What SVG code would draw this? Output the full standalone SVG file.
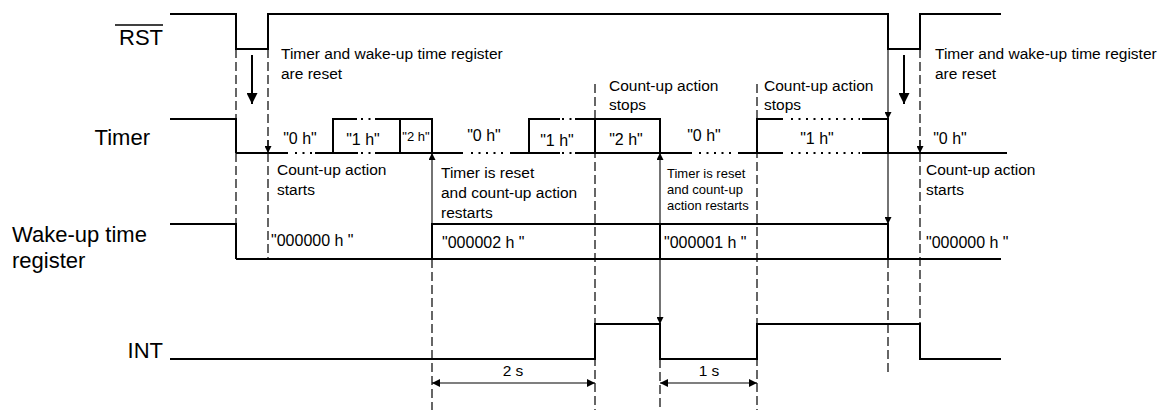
<svg xmlns="http://www.w3.org/2000/svg" width="1169" height="410" viewBox="0 0 1169 410">
<style>
.sig{fill:none;stroke:#000;stroke-width:2;stroke-linejoin:miter;stroke-linecap:butt}
.dot{fill:none;stroke:#000;stroke-width:2;stroke-dasharray:2 5.5}
.dash{fill:none;stroke:#000;stroke-width:1.2;stroke-dasharray:9 4}
.thin{fill:none;stroke:#000;stroke-width:1.1}
.bold{fill:none;stroke:#000;stroke-width:2}
text{font-family:"Liberation Sans",Arial,sans-serif;fill:#000}
.lbl{font-size:22px}
.note{font-size:15.5px}
.sm{font-size:13px}
.val{font-size:16px;text-anchor:middle}
.reg{font-size:16px}
</style>
<defs>
<marker id="ah" viewBox="0 0 10 10" refX="10" refY="5" markerWidth="9" markerHeight="7" markerUnits="userSpaceOnUse" orient="auto"><path d="M0,0 L10,5 L0,10 z" fill="#000"/></marker>
<marker id="ahd" viewBox="0 0 10 10" refX="10" refY="5" markerWidth="10" markerHeight="8" markerUnits="userSpaceOnUse" orient="auto-start-reverse"><path d="M0,0 L10,5 L0,10 z" fill="#000"/></marker>
<marker id="ahb" viewBox="0 0 10 10" refX="10" refY="5" markerWidth="15" markerHeight="11" markerUnits="userSpaceOnUse" orient="auto"><path d="M0,0 L10,5 L0,10 z" fill="#000"/></marker>
</defs>
<rect width="1169" height="410" fill="#fff"/>

<g id="labels">
<text class="lbl" x="163" y="45" text-anchor="end">RST</text>
<line x1="115" y1="25" x2="163" y2="25" stroke="#000" stroke-width="1.5"/>
<text class="lbl" x="150" y="145" text-anchor="end">Timer</text>
<text class="lbl" x="12" y="242">Wake-up time</text>
<text class="lbl" x="12" y="268">register</text>
<text class="lbl" x="163" y="358" text-anchor="end">INT</text>
</g>

<g id="rst">
<polyline class="sig" points="170,14 236,14 236,49 268,49 268,14 888,14 888,49 920,49 920,14 1001,14"/>
</g>

<g id="timer">
<polyline class="sig" points="170,119 236,119 236,153"/>
<line class="sig" x1="236" y1="153" x2="288" y2="153"/>
<line class="dot" x1="295" y1="153" x2="313" y2="153"/>
<line class="sig" x1="315" y1="153" x2="358" y2="153"/>
<line class="dot" x1="361" y1="153" x2="372" y2="153"/>
<line class="sig" x1="375" y1="153" x2="463" y2="153"/>
<line class="dot" x1="471" y1="153" x2="508" y2="153"/>
<line class="sig" x1="510" y1="153" x2="560" y2="153"/>
<line class="dot" x1="562" y1="153" x2="573" y2="153"/>
<line class="sig" x1="575" y1="153" x2="692" y2="153"/>
<line class="dot" x1="699" y1="153" x2="736" y2="153"/>
<line class="sig" x1="738" y1="153" x2="783" y2="153"/>
<line class="dot" x1="791" y1="153" x2="860" y2="153"/>
<line class="sig" x1="862" y1="153" x2="1007" y2="153"/>
<polyline class="sig" points="333,153 333,119 357,119"/>
<line class="dot" x1="361" y1="119" x2="372" y2="119"/>
<polyline class="sig" points="375,119 432,119 432,153"/>
<line class="sig" x1="400" y1="119" x2="400" y2="153"/>
<polyline class="sig" points="529,153 529,119 560,119"/>
<line class="dot" x1="562" y1="119" x2="573" y2="119"/>
<polyline class="sig" points="575,119 660,119 660,153"/>
<line class="sig" x1="595" y1="119" x2="595" y2="153"/>
<polyline class="sig" points="757,153 757,119 783,119"/>
<line class="dot" x1="791" y1="119" x2="860" y2="119"/>
<polyline class="sig" points="862,119 888,119 888,153"/>
<text class="val" x="300" y="144">"0 h"</text>
<text class="val" x="363" y="145">"1 h"</text>
<text class="val" x="416" y="141" style="font-size:13px">"2 h"</text>
<text class="val" x="484" y="141">"0 h"</text>
<text class="val" x="557" y="146">"1 h"</text>
<text class="val" x="626" y="145">"2 h"</text>
<text class="val" x="704" y="141">"0 h"</text>
<text class="val" x="817" y="144">"1 h"</text>
<text class="val" x="950" y="144">"0 h"</text>
</g>

<g id="wakeup">
<polyline class="sig" points="170,224 236,224 236,259"/>
<line class="sig" x1="236" y1="259" x2="1001" y2="259"/>
<polyline class="sig" points="432,259 432,224 888,224 888,259"/>
<line class="sig" x1="660" y1="224" x2="660" y2="259"/>
<text class="reg" x="271" y="246">"000000 h "</text>
<text class="reg" x="442" y="248">"000002 h "</text>
<text class="reg" x="664" y="248">"000001 h "</text>
<text class="reg" x="926" y="248">"000000 h "</text>
</g>

<g id="int">
<polyline class="sig" points="170,359 595,359 595,324 660,324 660,359 757,359 757,324 920,324 920,359 1001,359"/>
</g>

<g id="annotations">
<text class="note" x="281" y="59">Timer and wake-up time register</text>
<text class="note" x="281" y="79">are reset</text>
<text class="note" x="935" y="59">Timer and wake-up time register</text>
<text class="note" x="935" y="79">are reset</text>
<text class="note" x="277" y="175">Count-up action</text>
<text class="note" x="277" y="195">starts</text>
<text class="note" x="926" y="175">Count-up action</text>
<text class="note" x="926" y="195">starts</text>
<text class="note" x="609" y="91">Count-up action</text>
<text class="note" x="609" y="110">stops</text>
<text class="note" x="764" y="91">Count-up action</text>
<text class="note" x="764" y="110">stops</text>
<text class="note" x="441" y="178">Timer is reset</text>
<text class="note" x="441" y="198">and count-up action</text>
<text class="note" x="441" y="218">restarts</text>
<text class="sm" x="667" y="178">Timer is reset</text>
<text class="sm" x="667" y="194">and count-up</text>
<text class="sm" x="667" y="210">action restarts</text>
<text class="note" x="513" y="376" text-anchor="middle">2 s</text>
<text class="note" x="709" y="376" text-anchor="middle">1 s</text>
</g>

<g id="connectors">
<line class="dash" x1="236" y1="49" x2="236" y2="224"/>
<line class="dash" x1="268" y1="49" x2="268" y2="259"/>
<line class="dash" x1="920" y1="49" x2="920" y2="324"/>
<line class="dash" x1="432" y1="259" x2="432" y2="410"/>
<line class="dash" x1="595" y1="84" x2="595" y2="410"/>
<line class="dash" x1="660" y1="359" x2="660" y2="410"/>
<line class="dash" x1="757" y1="84" x2="757" y2="410"/>
<line class="dash" x1="888" y1="259" x2="888" y2="372"/>
<line class="thin" x1="268" y1="140" x2="268" y2="153" marker-end="url(#ah)"/>
<line class="thin" x1="920" y1="140" x2="920" y2="153" marker-end="url(#ah)"/>
<line class="bold" x1="252" y1="55" x2="252" y2="104" marker-end="url(#ahb)"/>
<line class="bold" x1="904" y1="55" x2="904" y2="104" marker-end="url(#ahb)"/>
<line class="thin" x1="432" y1="224" x2="432" y2="153" marker-end="url(#ah)"/>
<line class="thin" x1="660" y1="240" x2="660" y2="153" marker-end="url(#ah)"/>
<line class="thin" x1="660" y1="240" x2="660" y2="324" marker-end="url(#ah)"/>
<line class="thin" x1="888" y1="49" x2="888" y2="119" marker-end="url(#ah)"/>
<line class="thin" x1="888" y1="153" x2="888" y2="224" marker-end="url(#ah)"/>
<line class="thin" x1="432" y1="383" x2="595" y2="383" marker-start="url(#ahd)" marker-end="url(#ahd)"/>
<line class="thin" x1="660" y1="383" x2="757" y2="383" marker-start="url(#ahd)" marker-end="url(#ahd)"/>
</g>
</svg>
